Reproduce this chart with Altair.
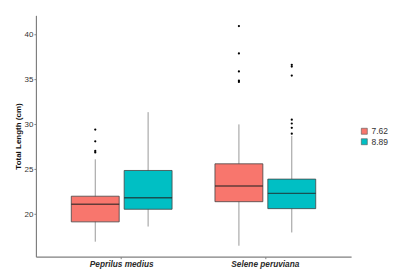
import altair as alt
import pandas as pd

species = ["Peprilus medius", "Peprilus medius", "Selene peruviana", "Selene peruviana"]
group = ["7.62", "8.89", "7.62", "8.89"]
lower = [16.95, 18.63, 16.5, 17.97]
q1 = [19.15, 20.55, 21.39, 20.62]
median = [21.1, 21.83, 23.13, 22.32]
q3 = [22.0, 24.86, 25.6, 23.9]
upper = [26.1, 31.34, 29.98, 28.7]

out_species = (["Peprilus medius"] * 4 + ["Selene peruviana"] * 5 + ["Selene peruviana"] * 7)
out_group = (["7.62"] * 4 + ["7.62"] * 5 + ["8.89"] * 7)
out_value = [29.4, 28.1, 27.03, 26.86,
             40.9, 37.86, 35.87, 34.84, 34.7,
             36.6, 36.4, 35.4, 30.5, 30.08, 29.6, 28.95]

stats = pd.DataFrame({"species": species, "group": group, "lower": lower, "q1": q1,
                      "median": median, "q3": q3, "upper": upper})
outs = pd.DataFrame({"species": out_species, "group": out_group, "value": out_value})

x_enc = alt.X("species:N", scale=alt.Scale(paddingInner=0.25, paddingOuter=0.222),
              axis=alt.Axis(title=None, labelAngle=0, labelFontStyle="italic", labelFontWeight="bold",
                            labelColor="#2b2b2b", labelFontSize=8.3))
xo_enc = alt.XOffset("group:N", scale=alt.Scale(domain=["7.62", "8.89"], paddingInner=0.094, paddingOuter=0.066))
yscale = alt.Scale(domain=[15.28, 42.1], nice=False, zero=False)

whisk = alt.Chart(stats).mark_rule(color="#999999", strokeWidth=1).encode(
    x=x_enc, xOffset=xo_enc,
    y=alt.Y("lower:Q", scale=yscale, axis=alt.Axis(title="Total Length (cm)", values=[20, 25, 30, 35, 40])),
    y2="upper:Q",
)
box = alt.Chart(stats).mark_bar(stroke="#444444", strokeWidth=0.8).encode(
    x=x_enc, xOffset=xo_enc,
    y=alt.Y("q1:Q", scale=yscale),
    y2="q3:Q",
    color=alt.Color("group:N", scale=alt.Scale(domain=["7.62", "8.89"], range=["#F8766D", "#00BFC4"]),
                    legend=alt.Legend(title=None, orient="none", legendX=325, legendY=112,
                                      symbolType="square", symbolSize=36, symbolStrokeColor="#555555",
                                      symbolStrokeWidth=0.6, labelFontSize=8.5, labelColor="#333333",
                                      rowPadding=1.5, labelOffset=3, symbolOpacity=1)),
)
med = alt.Chart(stats).mark_tick(color="#222222", thickness=1.4, size=48).encode(
    x=x_enc, xOffset=xo_enc,
    y=alt.Y("median:Q", scale=yscale),
)
pts = alt.Chart(outs).mark_circle(color="black", size=5, opacity=1).encode(
    x=x_enc, xOffset=xo_enc,
    y=alt.Y("value:Q", scale=yscale),
)

chart = alt.layer(whisk, box, med, pts).properties(
    width=316, height=242,
    padding={"left": 6, "top": 7, "right": 0, "bottom": 0},
).configure_view(stroke=None).configure_axis(
    grid=False, domainColor="#7f7f7f", domainWidth=1.2, tickColor="#7f7f7f", tickSize=2,
    labelFont="Liberation Sans", titleFont="Liberation Sans", labelFontSize=8, titleFontSize=8,
    labelColor="#333333", titleColor="#111111", labelPadding=1, titlePadding=2,
).configure_legend(labelFont="Liberation Sans")

chart.save("out.html", embed_options={"renderer": "svg", "actions": False})
